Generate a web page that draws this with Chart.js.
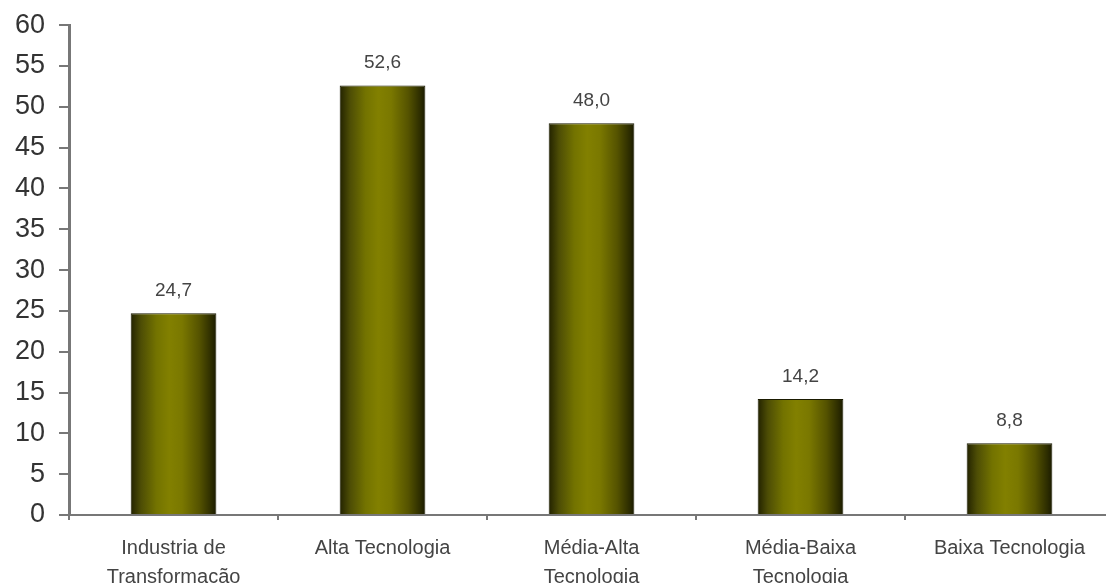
<!DOCTYPE html>
<html>
<head>
<meta charset="utf-8">
<script src="https://cdn.jsdelivr.net/npm/chart.js"></script>
<style>
  html, body { margin: 0; padding: 0; background: #fff; overflow: hidden; }
  #wrap { width: 1106px; height: 583px; overflow: hidden; position: relative; }
  #chart { position: absolute; left: 0; top: -5px; }
</style>
</head>
<body>
<div id="wrap"><canvas id="chart" width="1120" height="611"></canvas></div>
<script>
// categorias e valores (%)
var categorias = [
    ['Industria de', 'Transformação'],
    'Alta Tecnologia',
    ['Média-Alta', 'Tecnologia'],
    ['Média-Baixa', 'Tecnologia'],
    'Baixa Tecnologia'
];
var valores = [24.7, 52.6, 48.0, 14.2, 8.8];
var yMin = 0, yMax = 60, yPasso = 5;

var larguraBarra = 0.41;

// degradê horizontal em cada barra (efeito cilindro)
function degradeBarra(context) {
    var chart = context.chart;
    var x = chart.scales.x;
    if (!x || !chart.chartArea) return '#808000';
    var centro = x.getPixelForValue(context.dataIndex);
    var meia = (x.width / categorias.length) * larguraBarra / 2;
    var g = chart.ctx.createLinearGradient(centro - meia, 0, centro + meia, 0);
    g.addColorStop(0, '#222200');
    g.addColorStop(0.12, '#4d4d05');
    g.addColorStop(0.3, '#737300');
    g.addColorStop(0.45, '#828000');
    g.addColorStop(0.6, '#7a7800');
    g.addColorStop(0.8, '#555300');
    g.addColorStop(0.95, '#2a2a00');
    g.addColorStop(1, '#1a1a00');
    return g;
}

// rótulos de valor acima das barras
var rotulosValor = {
    id: 'rotulosValor',
    afterDatasetsDraw: function(chart) {
        var ctx = chart.ctx;
        var meta = chart.getDatasetMeta(0);
        ctx.save();
        ctx.font = '19px "Liberation Sans", Arial, sans-serif';
        ctx.fillStyle = '#444';
        ctx.textAlign = 'center';
        ctx.textBaseline = 'bottom';
        meta.data.forEach(function(bar, i) {
            var txt = valores[i].toFixed(1).replace('.', ',');
            ctx.fillText(txt, bar.x, bar.y - 13);
        });
        ctx.restore();
    }
};

new Chart(document.getElementById('chart'), {
    type: 'bar',
    data: {
        labels: categorias,
        datasets: [{
            data: valores,
            backgroundColor: degradeBarra,
            borderColor: '#1a1a00',
            borderWidth: 1,
            barPercentage: larguraBarra,
            categoryPercentage: 1
        }]
    },
    options: {
        responsive: false,
        animation: false,
        devicePixelRatio: 1,
        layout: { padding: { left: 1, right: 6, top: 3, bottom: 0 } },
        plugins: {
            legend: { display: false },
            tooltip: { enabled: false }
        },
        scales: {
            x: {
                grid: {
                    display: true,
                    drawOnChartArea: false,
                    drawTicks: true,
                    tickLength: 5,
                    color: '#777',
                    lineWidth: 2
                },
                border: { display: true, color: '#777', width: 2 },
                ticks: {
                    color: '#444',
                    padding: 14,
                    maxRotation: 0,
                    autoSkip: false,
                    font: { family: '"Liberation Sans", Arial, sans-serif', size: 20, lineHeight: 1.45 }
                }
            },
            y: {
                min: yMin,
                max: yMax,
                grid: {
                    display: true,
                    drawOnChartArea: false,
                    drawTicks: true,
                    tickLength: 10,
                    color: '#777',
                    lineWidth: 2
                },
                border: { display: true, color: '#777', width: 3 },
                ticks: {
                    stepSize: yPasso,
                    color: '#333',
                    padding: 14,
                    font: { family: '"Liberation Sans", Arial, sans-serif', size: 27 }
                }
            }
        }
    },
    plugins: [rotulosValor]
});
</script>
</body>
</html>
